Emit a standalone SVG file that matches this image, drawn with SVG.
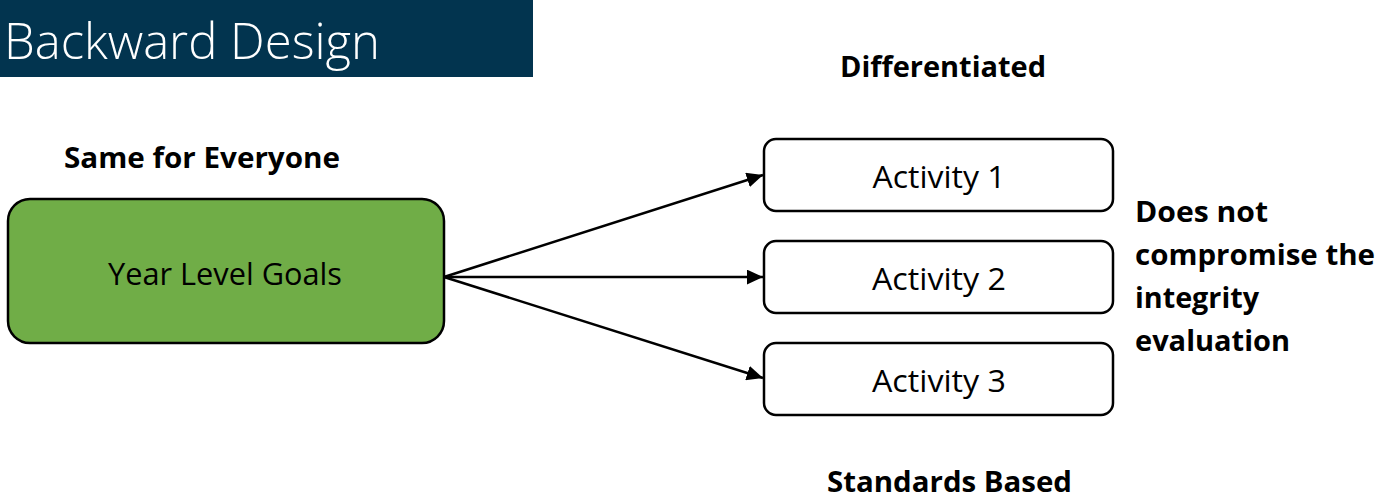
<svg xmlns="http://www.w3.org/2000/svg" width="1376" height="498" viewBox="0 0 1376 498">
  <style>
    .box { stroke: #000; stroke-width: 2.5; }
    .goal { fill: #70AD47; }
    .act { fill: #FFFFFF; }
    .lbl { font-family: "Open Sans", "Liberation Sans", sans-serif; fill: #000; }
    .node-text { font-size: 31px; text-anchor: middle; }
    .bold { font-weight: 700; font-size: 28px; }
    .edge { stroke: #000; stroke-width: 2.5; fill: none; marker-end: url(#arrow); }
  </style>
  <defs>
    <marker id="arrow" viewBox="0 0 10 10" refX="10" refY="5" markerWidth="6.5" markerHeight="6" markerUnits="strokeWidth" orient="auto" preserveAspectRatio="none">
      <path d="M0,0 L10,5 L0,10 Z" fill="#000"/>
    </marker>
  </defs>

  <rect width="1376" height="498" fill="#FFFFFF"/>

  <!-- Title banner -->
  <g id="title">
    <rect x="0" y="0" width="533" height="77" fill="#02344F"/>
    <text x="4" y="59" class="lbl" font-size="49" font-weight="300" style="fill:#FFFFFF" textLength="376" lengthAdjust="spacingAndGlyphs">Backward Design</text>
  </g>

  <!-- Section labels -->
  <text class="lbl bold" x="64" y="168" textLength="276" lengthAdjust="spacingAndGlyphs">Same for Everyone</text>
  <text class="lbl bold" x="840" y="77" textLength="206" lengthAdjust="spacingAndGlyphs">Differentiated</text>
  <text class="lbl bold" x="827" y="492" textLength="245" lengthAdjust="spacingAndGlyphs">Standards Based</text>
  <g class="lbl bold">
    <text x="1135" y="222" textLength="133" lengthAdjust="spacingAndGlyphs">Does not</text>
    <text x="1135" y="265" textLength="240" lengthAdjust="spacingAndGlyphs">compromise the</text>
    <text x="1135" y="308" textLength="124" lengthAdjust="spacingAndGlyphs">integrity</text>
    <text x="1135" y="351" textLength="155" lengthAdjust="spacingAndGlyphs">evaluation</text>
  </g>

  <!-- Connectors -->
  <g id="connectors">
    <line class="edge" x1="444" y1="277" x2="763" y2="175"/>
    <line class="edge" x1="444" y1="277" x2="763" y2="277"/>
    <line class="edge" x1="444" y1="277" x2="763" y2="378"/>
  </g>

  <!-- Nodes -->
  <g id="goals">
    <rect class="box goal" x="8" y="199" width="436" height="144" rx="22"/>
    <text class="lbl node-text" x="225" y="285" textLength="234" lengthAdjust="spacingAndGlyphs">Year Level Goals</text>
  </g>
  <g id="activity1">
    <rect class="box act" x="764" y="139" width="349" height="72" rx="12"/>
    <text class="lbl node-text" x="939" y="188" textLength="133" lengthAdjust="spacingAndGlyphs">Activity 1</text>
  </g>
  <g id="activity2">
    <rect class="box act" x="764" y="241" width="349" height="72" rx="12"/>
    <text class="lbl node-text" x="939" y="290" textLength="134" lengthAdjust="spacingAndGlyphs">Activity 2</text>
  </g>
  <g id="activity3">
    <rect class="box act" x="764" y="343" width="349" height="72" rx="12"/>
    <text class="lbl node-text" x="939" y="392" textLength="134" lengthAdjust="spacingAndGlyphs">Activity 3</text>
  </g>
</svg>
